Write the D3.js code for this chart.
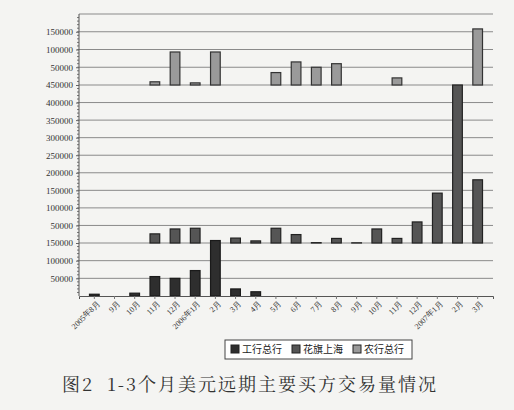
<!DOCTYPE html>
<meta charset="utf-8">
<head><title>chart</title>
<style>body{margin:0;background:#f4f4f2;} text{font-family:"Liberation Serif","DejaVu Serif",serif;}</style>
</head>
<body>
<script src="https://d3js.org/d3.v7.min.js"></script>
<script>
const months = ["2005年8月","9月","10月","11月","12月","2006年1月","2月","3月","4月","5月","6月","7月","8月","9月","10月","11月","12月","2007年1月","2月","3月"];
const icbc =  [5000,0,8000,55000,50000,72000,157000,20000,12000,0,0,0,0,0,0,0,0,0,0,0];
const citi =  [0,0,0,26000,40000,42000,0,14000,6000,42000,24000,1000,13000,500,40000,13000,60000,142000,450000,180000];
const abc =   [0,0,0,9000,93000,6000,93000,0,0,35000,65000,50000,60000,0,0,20000,0,0,0,158000];
const seriesNames = ["工行总行","花旗上海","农行总行"];
const caption = "图2  1-3个月美元远期主要买方交易量情况";

const svg = d3.select("body").append("svg").attr("width",514).attr("height",410);
const left = 79, right = 493;

const x = d3.scaleBand().domain(months.map((m,i)=>i)).range([left,right]).padding(0.52);

// three stacked panels
const panels = [
  {data: icbc, y: d3.scaleLinear().domain([0,150000]).range([296,243]), ticks:[50000,100000,150000], fill:"#2e2e2e", stroke:"#1a1a1a"},
  {data: citi, y: d3.scaleLinear().domain([0,450000]).range([243,85]), ticks:d3.range(50000,450001,50000), fill:"#555", stroke:"#222"},
  {data: abc,  y: d3.scaleLinear().domain([0,200000]).range([85,14]), ticks:[50000,100000,150000], fill:"#9a9a9a", stroke:"#333"}
];

// grid
panels.forEach((p,k)=>{
  const gv = k===2 ? [50000,100000,150000,200000] : p.ticks;
  svg.append("g").selectAll("line").data(gv).join("line")
    .attr("x1",left).attr("x2",right).attr("y1",d=>p.y(d)).attr("y2",d=>p.y(d))
    .attr("stroke","#8a8a8a").attr("stroke-width",1);
  const ax = svg.append("g").attr("transform","translate("+left+",0)")
    .call(d3.axisLeft(p.y).tickValues(p.ticks).tickSize(3).tickFormat(d3.format("d")));
  ax.select(".domain").remove();
  ax.selectAll("text").attr("font-size",9).attr("fill","#333");
  ax.selectAll("line").attr("stroke","#666");
  // minor ticks
  svg.append("g").selectAll("line").data(d3.range(10000,p.y.domain()[1],10000)).join("line")
    .attr("x1",left-2).attr("x2",left).attr("y1",d=>p.y(d)).attr("y2",d=>p.y(d)).attr("stroke","#777");
});

// bars
panels.forEach(p=>{
  svg.append("g").selectAll("rect").data(p.data.map((v,i)=>({v,i})).filter(d=>d.v>0)).join("rect")
    .attr("x",d=>x(d.i)).attr("width",x.bandwidth())
    .attr("y",d=>p.y(d.v)).attr("height",d=>p.y(0)-p.y(d.v))
    .attr("fill",p.fill).attr("stroke",p.stroke).attr("stroke-width",1.2);
});

// axes lines
svg.append("line").attr("x1",left).attr("x2",left).attr("y1",14).attr("y2",296).attr("stroke","#555");
const xa = svg.append("g").attr("transform","translate(0,296)")
  .call(d3.axisBottom(x).tickSize(3).tickFormat(i=>months[i]));
xa.select(".domain").attr("stroke","#555");
xa.selectAll("line").attr("stroke","#777");
xa.selectAll("text").attr("font-size",8).attr("fill","#333")
  .attr("text-anchor","end").attr("transform","rotate(-45)").attr("dx","-0.2em").attr("dy","0.5em");

// legend
const lg = svg.append("g").attr("transform","translate(225,340)");
lg.append("rect").attr("width",187).attr("height",19).attr("fill","#fff").attr("stroke","#444");
const legFill = panels.map(p=>p.fill);
seriesNames.forEach((n,i)=>{
  const g = lg.append("g").attr("transform","translate("+(6+i*61)+",5)");
  g.append("rect").attr("width",8).attr("height",8).attr("fill",legFill[i]).attr("stroke","#222");
  g.append("text").attr("x",11).attr("y",8).attr("font-size",10).attr("fill","#222")
    .style("font-family","'Noto Sans CJK SC'").text(n);
});

svg.append("text").attr("x",250).attr("y",391).attr("text-anchor","middle")
  .attr("font-size",18).attr("fill","#333").style("white-space","pre").style("letter-spacing","2px")
  .style("font-family","'Noto Serif CJK SC','Noto Sans CJK SC'").text(caption);
</script>
</body>
</html>
